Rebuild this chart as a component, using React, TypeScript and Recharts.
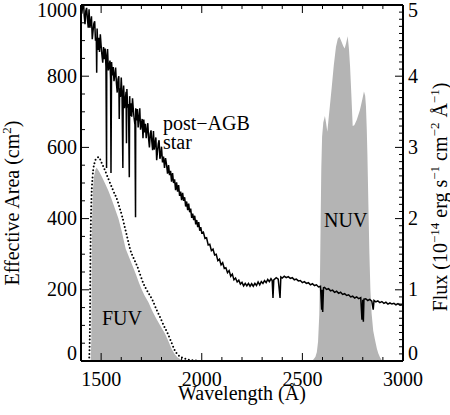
import React from 'react';
import { ComposedChart, Area, Line, XAxis, YAxis } from 'recharts';

// post-AGB star spectrum: [wavelength (A), flux (1e-14 erg/s/cm2/A)]
const spectrum: [number, number][] = [
  [1400, 5.08], [1404, 4.88], [1408, 4.98], [1412, 5.08], [1416, 4.85], [1420, 4.73], [1424, 4.92], [1428, 4.96],
  [1432, 4.8], [1436, 4.68], [1440, 4.94], [1444, 4.68], [1448, 4.75], [1452, 4.84], [1456, 4.52], [1460, 4.64],
  [1464, 4.74], [1468, 4.77], [1472, 4.5], [1476, 4.54], [1478, 4.05], [1480, 4.67], [1484, 4.37], [1488, 4.54],
  [1492, 4.34], [1496, 4.59], [1500, 4.43], [1504, 4.3], [1508, 4.19], [1512, 4.41], [1516, 4.24], [1520, 4.39],
  [1524, 4.13], [1527, 2.71], [1528, 4.27], [1532, 4.38], [1536, 4.08], [1540, 4.15], [1544, 4.22], [1547, 3.95],
  [1549, 2.64], [1552, 4.2], [1556, 4.01], [1560, 4.13], [1564, 3.93], [1568, 4.02], [1572, 4.12], [1576, 3.9],
  [1580, 3.77], [1584, 3.96], [1588, 4.0], [1590, 3.4], [1592, 3.83], [1596, 3.71], [1600, 3.98], [1604, 3.72],
  [1608, 2.71], [1610, 3.78], [1612, 3.87], [1616, 3.55], [1620, 3.67], [1624, 3.78], [1626, 3.06], [1628, 3.82],
  [1632, 3.56], [1636, 3.61], [1640, 2.58], [1642, 3.72], [1644, 3.44], [1648, 3.62], [1652, 3.43], [1656, 3.69],
  [1660, 3.53], [1664, 3.41], [1668, 3.32], [1671, 2.02], [1672, 3.55], [1676, 3.38], [1680, 3.54], [1684, 3.28],
  [1688, 3.42], [1692, 3.55], [1696, 3.25], [1700, 3.32], [1704, 3.4], [1708, 3.13], [1712, 3.39], [1716, 3.21],
  [1720, 3.33], [1724, 3.13], [1728, 3.24], [1732, 3.34], [1736, 3.12], [1740, 3.0], [1744, 3.19], [1748, 3.24],
  [1752, 3.08], [1756, 2.96], [1760, 3.23], [1764, 2.97], [1768, 3.05], [1772, 3.14], [1776, 2.82], [1780, 2.94],
  [1784, 3.05], [1788, 3.1], [1792, 2.84], [1796, 2.89], [1800, 3.01], [1805, 2.79], [1810, 2.87], [1815, 2.71],
  [1820, 2.85], [1825, 2.76], [1830, 2.63], [1835, 2.75], [1840, 2.61], [1845, 2.67], [1850, 2.52], [1855, 2.64],
  [1860, 2.5], [1865, 2.55], [1870, 2.4], [1875, 2.51], [1880, 2.38], [1885, 2.47], [1890, 2.32], [1895, 2.38],
  [1900, 2.26], [1905, 2.36], [1910, 2.25], [1915, 2.3], [1920, 2.17], [1925, 2.24], [1930, 2.12], [1935, 2.21],
  [1940, 2.09], [1945, 2.14], [1950, 2.01], [1955, 2.07], [1960, 1.98], [1965, 2.04], [1970, 1.92], [1975, 1.98],
  [1980, 1.88], [1985, 1.95], [1990, 1.83], [1995, 1.88], [2000, 1.8], [2008, 1.81], [2016, 1.72], [2024, 1.73],
  [2032, 1.63], [2040, 1.64], [2048, 1.55], [2056, 1.57], [2064, 1.49], [2072, 1.5], [2080, 1.41], [2088, 1.43],
  [2096, 1.35], [2104, 1.38], [2112, 1.3], [2120, 1.31], [2128, 1.24], [2136, 1.27], [2144, 1.19], [2152, 1.22],
  [2160, 1.14], [2168, 1.165], [2176, 1.11], [2184, 1.135], [2192, 1.08], [2200, 1.105], [2208, 1.055], [2216, 1.09],
  [2224, 1.055], [2232, 1.09], [2240, 1.05], [2248, 1.085], [2256, 1.05], [2264, 1.09], [2272, 1.06], [2280, 1.11],
  [2288, 1.07], [2296, 1.115], [2304, 1.09], [2312, 1.13], [2320, 1.1], [2328, 1.145], [2336, 1.115], [2344, 1.155],
  [2350, 1.13], [2354, 0.885], [2358, 1.14], [2370, 1.17], [2380, 1.15], [2389, 0.885], [2393, 1.18], [2400, 1.165],
  [2410, 1.19], [2420, 1.17], [2430, 1.185], [2440, 1.16], [2450, 1.17], [2460, 1.14], [2470, 1.15], [2480, 1.125],
  [2490, 1.13], [2500, 1.1], [2510, 1.115], [2520, 1.09], [2530, 1.1], [2540, 1.07], [2550, 1.085], [2560, 1.06],
  [2570, 1.07], [2580, 1.04], [2590, 1.05], [2596, 0.72], [2598, 1.0], [2601, 0.69], [2605, 1.03], [2610, 1.035],
  [2620, 1.005], [2630, 1.015], [2640, 0.985], [2650, 0.995], [2660, 0.965], [2670, 0.98], [2680, 0.95], [2690, 0.965],
  [2700, 0.935], [2710, 0.945], [2720, 0.92], [2730, 0.93], [2740, 0.9], [2750, 0.91], [2760, 0.885], [2770, 0.9],
  [2780, 0.875], [2790, 0.89], [2796, 0.58], [2800, 0.86], [2803, 0.55], [2806, 0.87], [2815, 0.875], [2825, 0.85],
  [2835, 0.865], [2845, 0.84], [2852, 0.72], [2856, 0.85], [2865, 0.83], [2875, 0.845], [2885, 0.82], [2895, 0.835],
  [2905, 0.81], [2915, 0.825], [2925, 0.8], [2935, 0.815], [2945, 0.8], [2955, 0.81], [2965, 0.79], [2975, 0.805],
  [2985, 0.785], [3000, 0.79],
];

// FUV effective area, grey fill (cm2)
const fuvArea: [number, number][] = [
  [1448, 0], [1451, 60], [1453, 250], [1455, 400], [1459, 480], [1465, 520], [1472, 538], [1478, 543],
  [1490, 532], [1503, 518], [1519, 499], [1536, 478], [1550, 458], [1561, 440], [1575, 418], [1586, 400],
  [1602, 365], [1612, 340], [1622, 315], [1640, 290], [1660, 262], [1675, 240], [1688, 220], [1700, 203],
  [1715, 185], [1735, 165], [1755, 140], [1773, 120], [1795, 98], [1817, 77], [1835, 55], [1851, 33],
  [1867, 18], [1880, 10], [1897, 4], [1915, 0],
];

// FUV effective area, dotted curve (cm2)
const fuvDotted: [number, number][] = [
  [1440, 0], [1444, 80], [1447, 300], [1451, 440], [1458, 520], [1467, 556], [1478, 570], [1488, 573],
  [1500, 560], [1515, 541], [1530, 520], [1545, 499], [1562, 476], [1580, 452], [1592, 430], [1605, 405],
  [1615, 382], [1625, 359], [1635, 335], [1645, 312], [1662, 288], [1680, 265], [1695, 241], [1710, 218],
  [1732, 194], [1755, 171], [1773, 147], [1792, 124], [1811, 100], [1830, 78], [1848, 54], [1865, 31],
  [1882, 17], [1900, 10], [1920, 6], [1940, 3], [1960, 2], [1985, 0],
];

// NUV effective area (cm2)
const nuvArea: [number, number][] = [
  [2545, 0], [2555, 4], [2565, 12], [2572, 25], [2578, 55], [2584, 130], [2588, 260], [2591, 400],
  [2594, 540], [2598, 630], [2604, 670], [2612, 688], [2618, 668], [2624, 644], [2632, 690], [2640, 735],
  [2646, 770], [2656, 830], [2667, 883], [2676, 905], [2684, 911], [2692, 900], [2703, 885], [2710, 878],
  [2717, 892], [2725, 912], [2731, 880], [2737, 827], [2744, 740], [2750, 660], [2758, 662], [2770, 677],
  [2786, 705], [2798, 735], [2806, 757], [2812, 745], [2816, 715], [2820, 650], [2823, 583], [2828, 440],
  [2833, 302], [2838, 200], [2844, 134], [2852, 85], [2861, 59], [2870, 35], [2877, 22], [2886, 10],
  [2894, 3], [2905, 0],
];

const waveTicks = Array.from({ length: 17 }, (_, i) => 1400 + i * 100);
const areaTicks = Array.from({ length: 21 }, (_, i) => i * 50);
const fluxTicks = Array.from({ length: 51 }, (_, i) => i / 10);

const toRows = (pts: [number, number][]) => pts.map(([w, v]) => ({ w, v }));

const FONT = "'Liberation Serif', 'Times New Roman', Times, serif";
const GREY = '#b4b4b4';
const txt = { fontFamily: FONT, fontSize: 20 };

const labelDy = (v: number, lo: number, hi: number) => (v === lo ? -1 : v === hi ? 12 : 6.5);

const BottomTick = ({ x, y, payload }: any) => {
  const v = payload.value;
  const major = v % 500 === 0;
  return (
    <g>
      <line x1={x} x2={x} y1={y} y2={y - (major ? 8 : 4)} stroke="#000" strokeWidth={1} />
      {major && (
        <text x={x} y={y + 25} textAnchor="middle" style={txt} fill="#000">{v}</text>
      )}
    </g>
  );
};

const TopTick = ({ x, y, payload }: any) => {
  const major = payload.value % 500 === 0;
  return <line x1={x} x2={x} y1={y} y2={y + (major ? 8 : 4)} stroke="#000" strokeWidth={1} />;
};

const LeftTick = ({ x, y, payload }: any) => {
  const v = payload.value;
  const major = v % 200 === 0;
  return (
    <g>
      <line x1={x} x2={x + (major ? 8 : 4)} y1={y} y2={y} stroke="#000" strokeWidth={1} />
      {major && (
        <text x={x - 4} y={y + labelDy(v, 0, 1000)} textAnchor="end" style={txt} fill="#000">{v}</text>
      )}
    </g>
  );
};

const RightTick = ({ x, y, payload }: any) => {
  const v = payload.value;
  const major = Math.abs(v - Math.round(v)) < 1e-6;
  return (
    <g>
      <line x1={x} x2={x - (major ? 8 : 4)} y1={y} y2={y} stroke="#000" strokeWidth={1} />
      {major && (
        <text x={x + 5} y={y + labelDy(Math.round(v), 0, 5)} textAnchor="start" style={txt} fill="#000">{Math.round(v)}</text>
      )}
    </g>
  );
};

const axisLine = { stroke: '#000', strokeWidth: 2 };
const sup = { fontSize: 13 };

export default function App() {
  return (
    <div style={{ position: 'absolute', left: 0, top: 0, width: 450, height: 415, background: '#fff', fontFamily: FONT }}>
      <ComposedChart width={450} height={415} margin={{ top: 0, right: 0, bottom: 0, left: 0 }}>
        <XAxis xAxisId="bottom" dataKey="w" type="number" domain={[1400, 3000]} allowDataOverflow
          ticks={waveTicks} tick={<BottomTick />} tickLine={false} tickSize={0} tickMargin={0}
          axisLine={axisLine} height={54} interval={0} />
        <XAxis xAxisId="top" orientation="top" dataKey="w" type="number" domain={[1400, 3000]} allowDataOverflow
          ticks={waveTicks} tick={<TopTick />} tickLine={false} tickSize={0} tickMargin={0}
          axisLine={axisLine} height={5} interval={0} />
        <YAxis yAxisId="left" type="number" domain={[0, 1000]} allowDataOverflow ticks={areaTicks}
          tick={<LeftTick />} tickLine={false} tickSize={0} tickMargin={0} axisLine={axisLine} width={81} interval={0} />
        <YAxis yAxisId="right" orientation="right" type="number" domain={[0, 5]} allowDataOverflow ticks={fluxTicks}
          tick={<RightTick />} tickLine={false} tickSize={0} tickMargin={0} axisLine={axisLine} width={47} interval={0} />

        <Area data={toRows(fuvArea)} xAxisId="bottom" yAxisId="left" dataKey="v" type="linear"
          stroke="none" fill={GREY} fillOpacity={1} isAnimationActive={false} />
        <Area data={toRows(nuvArea)} xAxisId="bottom" yAxisId="left" dataKey="v" type="linear"
          stroke="none" fill={GREY} fillOpacity={1} isAnimationActive={false} />
        <Line data={toRows(fuvDotted)} xAxisId="bottom" yAxisId="left" dataKey="v" type="monotone"
          stroke="#000" strokeWidth={2} strokeDasharray="0 3.6" strokeLinecap="round" dot={false}
          isAnimationActive={false} />
        <Line data={toRows(spectrum)} xAxisId="bottom" yAxisId="right" dataKey="v" type="linear"
          stroke="#000" strokeWidth={1.5} dot={false} isAnimationActive={false} />
      </ComposedChart>

      <svg width={450} height={415} style={{ position: 'absolute', left: 0, top: 0, pointerEvents: 'none', ...txt }}
        fill="#000">
        <text x={163} y={130}>post−AGB</text>
        <text x={163} y={149}>star</text>
        <text x={102} y={325}>FUV</text>
        <text x={324} y={227}>NUV</text>
        <text x={242} y={400} textAnchor="middle">Wavelength (Å)</text>
        <text transform="translate(19,203) rotate(-90)" textAnchor="middle">
          Effective Area (cm<tspan style={sup} dy={-8}>2</tspan><tspan dy={8}>)</tspan>
        </text>
        <text transform="translate(447,197) rotate(-90)" textAnchor="middle">
          Flux (10<tspan style={sup} dy={-8}>−14</tspan>
          <tspan dy={8}> erg s</tspan><tspan style={sup} dy={-8}>−1</tspan>
          <tspan dy={8}> cm</tspan><tspan style={sup} dy={-8}>−2</tspan>
          <tspan dy={8}> Å</tspan><tspan style={sup} dy={-8}>−1</tspan>
          <tspan dy={8}>)</tspan>
        </text>
      </svg>
    </div>
  );
}
